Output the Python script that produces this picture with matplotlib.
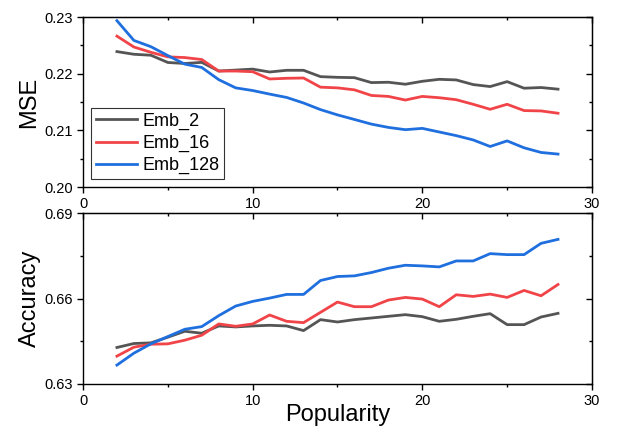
import numpy as np
import matplotlib
matplotlib.use('Agg')
import matplotlib.pyplot as plt
from matplotlib.ticker import MultipleLocator

plt.rcParams['font.family'] = ['Liberation Sans', 'DejaVu Sans']

popularity = list(range(2, 29))

# MSE
mse_emb2 = [0.2239, 0.22343, 0.22326, 0.22198, 0.2218, 0.2220, 0.22047, 0.22064, 0.22081,
            0.2203, 0.2206, 0.2206, 0.21948, 0.21936, 0.2193, 0.21843, 0.21849, 0.21814,
            0.21866, 0.21901, 0.2189, 0.21808, 0.21773, 0.2186, 0.21744, 0.21756, 0.21727]
mse_emb16 = [0.22663, 0.22471, 0.22378, 0.22297, 0.22285, 0.2225, 0.22047, 0.22047, 0.22035,
             0.21907, 0.21919, 0.21924, 0.21762, 0.2175, 0.21715, 0.21616, 0.21599, 0.21535,
             0.21599, 0.21576, 0.21541, 0.2146, 0.21372, 0.2146, 0.21349, 0.21343, 0.21302]
mse_emb128 = [0.22936, 0.22587, 0.22477, 0.2232, 0.22169, 0.2211, 0.21895, 0.2175, 0.21703,
              0.2164, 0.21581, 0.21483, 0.21366, 0.21273, 0.21192, 0.2111, 0.21052, 0.21012,
              0.21035, 0.20971, 0.20907, 0.20831, 0.20715, 0.20814, 0.20692, 0.2061, 0.20581]

# Accuracy
acc_emb2 = [0.64282, 0.64422, 0.64445, 0.64643, 0.64852, 0.64783, 0.65039, 0.65004, 0.65039,
            0.65062, 0.65039, 0.64876, 0.6526, 0.65178, 0.6526, 0.65318, 0.65377, 0.65435,
            0.65365, 0.65202, 0.65272, 0.65377, 0.6547, 0.65085, 0.65085, 0.65353, 0.65482]
acc_emb16 = [0.63979, 0.64293, 0.64398, 0.6441, 0.64538, 0.64713, 0.65109, 0.65027, 0.65109,
             0.65423, 0.65202, 0.65155, 0.65517, 0.65878, 0.65715, 0.65715, 0.65948, 0.66041,
             0.65983, 0.65715, 0.66134, 0.66076, 0.66157, 0.66041, 0.66286, 0.66099, 0.66495]
acc_emb128 = [0.63664, 0.64083, 0.6441, 0.64666, 0.64922, 0.65016, 0.654, 0.65738, 0.65901,
              0.66017, 0.66146, 0.66146, 0.66635, 0.66775, 0.66798, 0.66915, 0.67066, 0.67171,
              0.67148, 0.67113, 0.67322, 0.67322, 0.67579, 0.67544, 0.67544, 0.6794, 0.6808]

labels = ['Emb_2', 'Emb_16', 'Emb_128']
colors = ['#555555', '#f04448', '#1f6fde']

fig = plt.figure(figsize=(6.26, 4.26), dpi=100)
ax1 = fig.add_axes([0.1326, 0.561, 0.813, 0.399])
ax2 = fig.add_axes([0.1326, 0.0986, 0.813, 0.401])

for ys, lab, c in zip([mse_emb2, mse_emb16, mse_emb128], labels, colors):
    ax1.plot(popularity, ys, color=c, lw=2, label=lab)
for ys, lab, c in zip([acc_emb2, acc_emb16, acc_emb128], labels, colors):
    ax2.plot(popularity, ys, color=c, lw=2, label=lab)

ax1.set_ylim(0.20, 0.23)
ax1.yaxis.set_major_locator(MultipleLocator(0.01))
ax1.yaxis.set_minor_locator(MultipleLocator(0.005))
ax1.yaxis.set_major_formatter(plt.FormatStrFormatter('%.2f'))
ax2.set_ylim(0.63, 0.69)
ax2.yaxis.set_major_locator(MultipleLocator(0.03))
ax2.yaxis.set_minor_locator(MultipleLocator(0.015))
ax2.yaxis.set_major_formatter(plt.FormatStrFormatter('%.2f'))

for ax in (ax1, ax2):
    ax.set_xlim(0, 30)
    ax.xaxis.set_major_locator(MultipleLocator(10))
    ax.xaxis.set_minor_locator(MultipleLocator(5))
    ax.tick_params(which='major', direction='out', length=4.5, width=1, labelsize=10.5, pad=2.5)
    ax.tick_params(which='minor', direction='out', length=2.5, width=1)
    for s in ax.spines.values():
        s.set_linewidth(1)
    # mirrored ticks on top and right, pointing in
    top = ax.secondary_xaxis('top')
    top.xaxis.set_major_locator(MultipleLocator(10))
    top.xaxis.set_minor_locator(MultipleLocator(5))
    top.tick_params(which='major', direction='in', length=4.5, width=1, labeltop=False)
    top.tick_params(which='minor', direction='in', length=2.5, width=1)
    right = ax.secondary_yaxis('right')
    right.yaxis.set_major_locator(ax.yaxis.get_major_locator())
    right.yaxis.set_minor_locator(ax.yaxis.get_minor_locator())
    right.tick_params(which='major', direction='in', length=4.5, width=1, labelright=False)
    right.tick_params(which='minor', direction='in', length=2.5, width=1)

ax1.set_ylabel('MSE', fontsize=17, labelpad=3)
ax2.set_ylabel('Accuracy', fontsize=17, labelpad=3)
ax2.set_xlabel('Popularity', fontsize=17, labelpad=-3)

leg = ax1.legend(loc='lower left', fontsize=13, frameon=True, fancybox=False,
                 handlelength=2.3, handletextpad=0.3, borderpad=0.25, labelspacing=0.28,
                 borderaxespad=0.45)
leg.get_frame().set_edgecolor('black')
leg.get_frame().set_linewidth(0.8)

fig.savefig('out.png', dpi=100)
